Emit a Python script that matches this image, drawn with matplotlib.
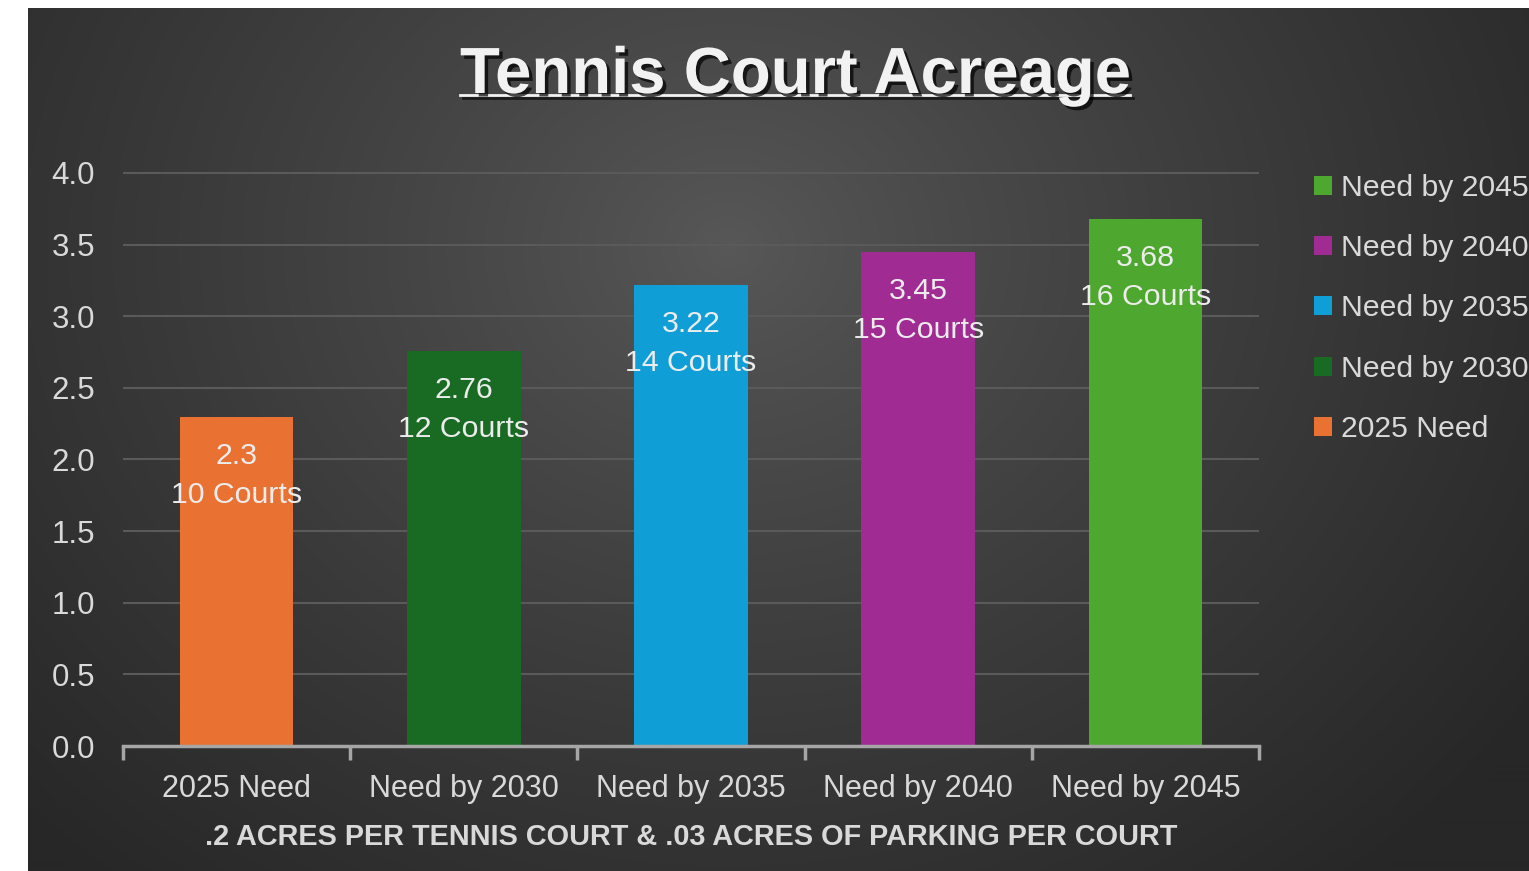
import numpy as np
import matplotlib
matplotlib.use("Agg")
import matplotlib.pyplot as plt
import matplotlib.patheffects as pe
from matplotlib.lines import Line2D

# data
categories = ["2025 Need", "Need by 2030", "Need by 2035", "Need by 2040", "Need by 2045"]
acres = [2.3, 2.76, 3.22, 3.45, 3.68]
courts = [10, 12, 14, 15, 16]
colors = ["#E97132", "#196B24", "#0F9ED5", "#A02B93", "#4EA72E"]
yticks = [0.0, 0.5, 1.0, 1.5, 2.0, 2.5, 3.0, 3.5, 4.0]

plt.rcParams['font.family'] = ['Liberation Sans', 'DejaVu Sans']

W, H = 1529, 871
fig = plt.figure(figsize=(W / 100, H / 100), dpi=100)
fig.patch.set_facecolor("white")

# dark radial background
bg = fig.add_axes([28 / W, 0, 1 - 28 / W, (H - 8) / H])
bg.set_axis_off()
yy, xx = np.mgrid[0:H - 8, 0:W - 28]
cx, cy = 700, 240
d = np.sqrt(((xx - cx) / 1.0) ** 2 + ((yy - cy) / 0.85) ** 2) / 980
d = np.clip(d, 0, 1)
val = (0x58 - (0x58 - 0x27) * d ** 0.85) / 255
bg.imshow(np.dstack([val, val, val]), aspect="auto", interpolation="bilinear")

# plot area
left, right = 123 / W, 1259 / W
ymax = 4.05
px_per_unit = (746 - 173) / 4.0
top_px = 746 - ymax * px_per_unit
ax = fig.add_axes([left, (H - 746) / H, right - left, (746 - top_px) / H])
ax.patch.set_alpha(0)

x = np.arange(len(categories))
bars = ax.bar(x, acres, width=0.5, color=colors, zorder=3)

ax.set_xlim(-0.5, len(categories) - 0.5)
ax.set_ylim(0, ymax)
ax.set_yticks(yticks)
ax.set_yticklabels([f"{v:.1f}" for v in yticks])
ax.set_xticks(x)
ax.set_xticklabels(categories)
ax.set_xticks(np.arange(-0.5, len(categories)), minor=True)
ax.tick_params(axis="x", which="major", length=0, pad=20.5, labelsize=22, labelcolor="#d9d9d9")
ax.tick_params(axis="x", which="minor", length=10, width=2.5, color="#a6a6a6", direction="out")
ax.tick_params(axis="y", length=0, pad=20, labelsize=22.5, labelcolor="#d9d9d9")
for lbl in ax.get_yticklabels():
    lbl.set_horizontalalignment("right")

ax.grid(axis="y", color="#5a5a5a", linewidth=1.5, zorder=0)
for s in ["top", "right", "left"]:
    ax.spines[s].set_visible(False)
ax.spines["bottom"].set_color("#a6a6a6")
ax.spines["bottom"].set_linewidth(2.5)
ax.spines["bottom"].set_zorder(4)

# data labels
for xi, a, c in zip(x, acres, courts):
    ax.annotate(f"{a:g}", (xi, a), xytext=(0, -28.5), textcoords="offset points",
                ha="center", va="center", fontsize=21.8, color="#ececec", zorder=5)
    ax.annotate(f"{c} Courts", (xi, a), xytext=(0, -56.5), textcoords="offset points",
                ha="center", va="center", fontsize=21.8, color="#ececec", zorder=5)

ax.set_xlabel(".2 ACRES PER TENNIS COURT & .03 ACRES OF PARKING PER COURT",
              fontsize=20.8, fontweight="bold", color="#d9d9d9", labelpad=13.5)

# legend (reversed order)
leg = ax.legend(bars.patches[::-1], categories[::-1], loc="upper left",
                bbox_to_anchor=(1314 / W, (H - 174) / H), bbox_transform=fig.transFigure,
                frameon=False, fontsize=21.7, labelcolor="#d9d9d9",
                handlelength=0.6, handleheight=0.6, handletextpad=0.28, labelspacing=1.07,
                borderaxespad=0, borderpad=0)

# title with shadow and underline
title = fig.text(795 / W, (H - 93) / H, "Tennis Court Acreage", ha="center", va="baseline",
                 fontsize=47, fontweight="bold", color="#f2f2f2",
                 path_effects=[pe.withSimplePatchShadow(offset=(2.5, -2.5), shadow_rgbFace="black", alpha=0.7)])
fig.canvas.draw()
bb = title.get_window_extent().transformed(fig.transFigure.inverted())
uy = (H - 95) / H
fig.add_artist(Line2D([bb.x0, bb.x1], [uy, uy], color="#f2f2f2", linewidth=2,
                      path_effects=[pe.SimpleLineShadow(offset=(2, -2), alpha=0.6), pe.Normal()]))

fig.savefig("out.png", dpi=100)
